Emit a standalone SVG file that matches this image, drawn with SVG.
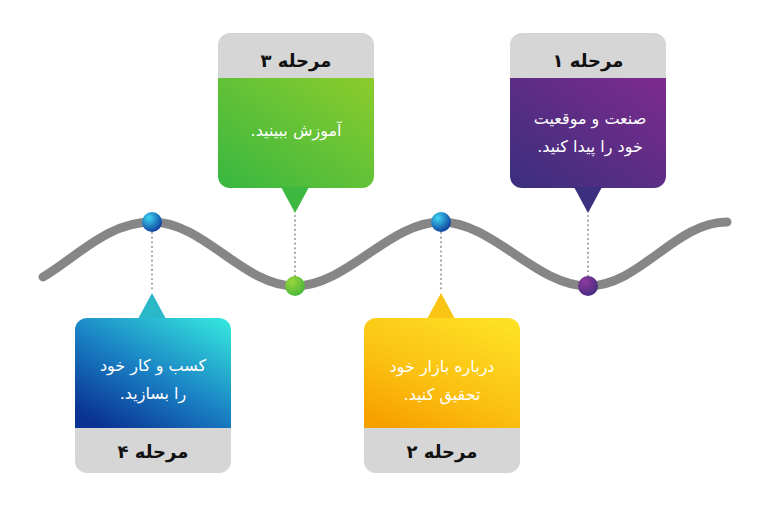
<svg xmlns="http://www.w3.org/2000/svg" width="768" height="512" viewBox="0 0 768 512">
<style>
.hdr{fill:#d6d6d6}
.ht{font-family:"DejaVu Sans",sans-serif;font-weight:bold;font-size:18px;fill:#111;text-anchor:middle;direction:rtl;unicode-bidi:embed}
.bt{font-family:"DejaVu Sans",sans-serif;font-size:16px;fill:#fff;text-anchor:middle;direction:rtl;unicode-bidi:embed}
.dots{stroke:#9a9a9a;stroke-width:2;stroke-dasharray:0.1 4.5;stroke-linecap:round;fill:none}
.wave{stroke:#868686;stroke-width:9;fill:none;stroke-linecap:round}
</style>
<defs>
<linearGradient id="gPurple" x1="1" y1="0" x2="0" y2="1">
<stop offset="0" stop-color="#7e2b8c"/><stop offset="1" stop-color="#3a2f7d"/>
</linearGradient>
<linearGradient id="gGreen" x1="1" y1="0" x2="0" y2="1">
<stop offset="0" stop-color="#8ccc2c"/><stop offset="1" stop-color="#38b741"/>
</linearGradient>
<linearGradient id="gBlue" x1="1" y1="0" x2="0.2" y2="1">
<stop offset="0" stop-color="#36ebdf"/><stop offset="0.55" stop-color="#1a82c4"/><stop offset="1" stop-color="#0a3394"/>
</linearGradient>
<linearGradient id="gYellow" x1="0.8" y1="0" x2="0.2" y2="1">
<stop offset="0" stop-color="#fde024"/><stop offset="0.6" stop-color="#fbbf10"/><stop offset="1" stop-color="#f7a100"/>
</linearGradient>
<radialGradient id="dBlue" cx="0.35" cy="0.3" r="0.75">
<stop offset="0" stop-color="#3fd6f2"/><stop offset="1" stop-color="#0b3a9b"/>
</radialGradient>
<radialGradient id="dGreen" cx="0.35" cy="0.3" r="0.75">
<stop offset="0" stop-color="#9ad63a"/><stop offset="1" stop-color="#48b63a"/>
</radialGradient>
<radialGradient id="dPurple" cx="0.35" cy="0.3" r="0.75">
<stop offset="0" stop-color="#8e3a9c"/><stop offset="1" stop-color="#462b80"/>
</radialGradient>
</defs>
<rect width="768" height="512" fill="#fff"/>

<g id="connectors">
<path class="wave" d="M43,277 C78,256 108,222 152,222 C204,222 243,286 295,286 C347,286 389,222 441,222 C493,222 536,286 588,286 C640,286 675,222 727,222"/>
<line class="dots" x1="588" y1="216" x2="588" y2="276"/>
<line class="dots" x1="295" y1="216" x2="295" y2="276"/>
<line class="dots" x1="152" y1="233" x2="152" y2="291"/>
<line class="dots" x1="441" y1="233" x2="441" y2="291"/>
</g>

<g id="stage1">
<path class="hdr" d="M510,78 V45 A12,12 0 0 1 522,33 H654 A12,12 0 0 1 666,45 V78 Z"/>
<path fill="url(#gPurple)" d="M510,78 H666 V176 A12,12 0 0 1 654,188 H522 A12,12 0 0 1 510,176 Z"/>
<path fill="#3c2f7d" d="M574,187 H602 L588,213 Z"/>
<text class="ht" x="588" y="67">مرحله ۱</text>
<text class="bt" x="590" y="124">صنعت و موقعیت</text>
<text class="bt" x="590" y="152">خود را پیدا کنید.</text>
<circle cx="588" cy="286" r="10" fill="url(#dPurple)"/>
</g>

<g id="stage3">
<path class="hdr" d="M218,78 V45 A12,12 0 0 1 230,33 H362 A12,12 0 0 1 374,45 V78 Z"/>
<path fill="url(#gGreen)" d="M218,78 H374 V176 A12,12 0 0 1 362,188 H230 A12,12 0 0 1 218,176 Z"/>
<path fill="#3db840" d="M281,187 H309 L295,213 Z"/>
<text class="ht" x="296" y="67">مرحله ۳</text>
<text class="bt" x="296" y="136">آموزش ببینید.</text>
<circle cx="295" cy="286" r="10" fill="url(#dGreen)"/>
</g>

<g id="stage4">
<path fill="#2ab8c8" d="M138,319 H166 L152,293 Z"/>
<path fill="url(#gBlue)" d="M75,428 V330 A12,12 0 0 1 87,318 H219 A12,12 0 0 1 231,330 V428 Z"/>
<path class="hdr" d="M75,428 H231 V461 A12,12 0 0 1 219,473 H87 A12,12 0 0 1 75,461 Z"/>
<text class="ht" x="153" y="458">مرحله ۴</text>
<text class="bt" x="153" y="371">کسب و کار خود</text>
<text class="bt" x="153" y="399">را بسازید.</text>
<circle cx="152" cy="222" r="10" fill="url(#dBlue)"/>
</g>

<g id="stage2">
<path fill="#f9c414" d="M427,319 H455 L441,293 Z"/>
<path fill="url(#gYellow)" d="M364,428 V330 A12,12 0 0 1 376,318 H508 A12,12 0 0 1 520,330 V428 Z"/>
<path class="hdr" d="M364,428 H520 V461 A12,12 0 0 1 508,473 H376 A12,12 0 0 1 364,461 Z"/>
<text class="ht" x="442" y="458">مرحله ۲</text>
<text class="bt" x="442" y="372">درباره بازار خود</text>
<text class="bt" x="442" y="400">تحقیق کنید.</text>
<circle cx="441" cy="222" r="10" fill="url(#dBlue)"/>
</g>
</svg>
